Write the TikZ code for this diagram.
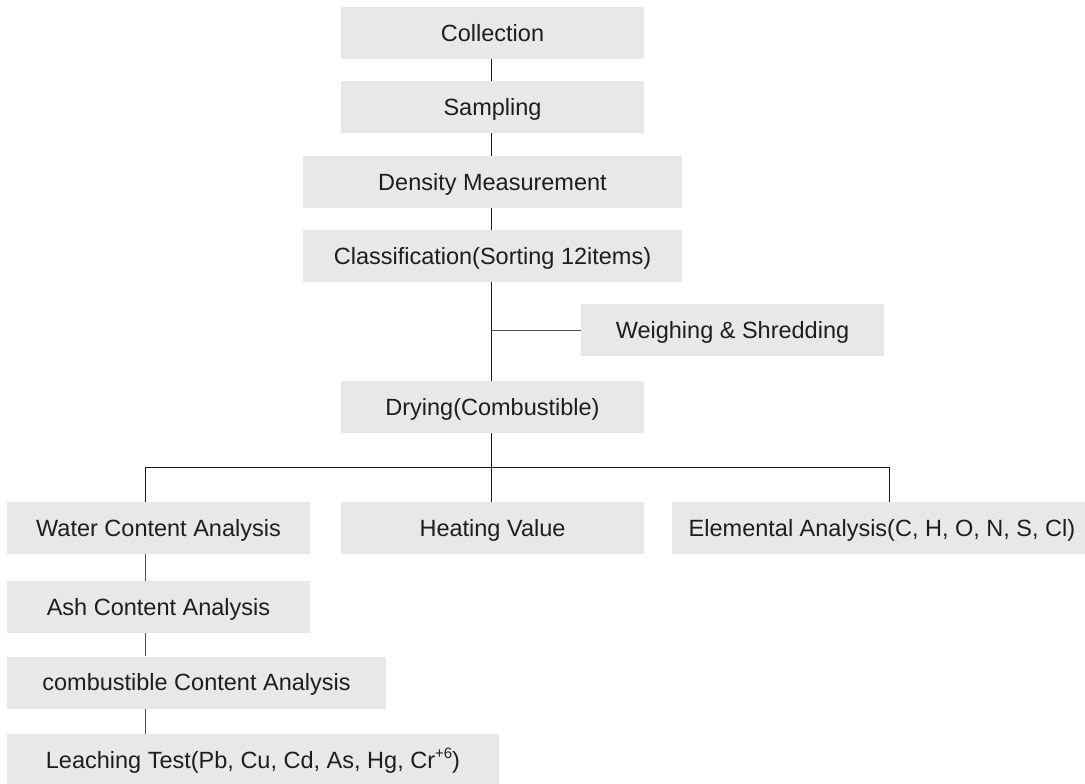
\documentclass[tikz,border=0pt]{standalone}
\usepackage{fontspec}
\setmainfont{Liberation Sans}
\definecolor{boxgray}{HTML}{E8E8E8}
\definecolor{txt}{HTML}{1E1E1E}
\definecolor{linedark}{HTML}{1A1A1A}
\definecolor{linegray}{HTML}{505050}
\begin{document}
\begin{tikzpicture}[x=1pt,y=-1pt,
  stepbox/.style={rectangle, fill=boxgray, draw=none, inner sep=0pt,
    minimum height=52pt, text=txt,
    font=\fontsize{23.5}{27}\selectfont, text height=16.8pt, text depth=0pt},
  conn/.style={draw=linedark, line width=1pt},
  conng/.style={draw=linegray, line width=1pt}]
\clip (0,0) rectangle (1085,784);
\fill[white] (0,0) rectangle (1085,784);
\node[stepbox, minimum width=303pt] (col) at (492.5,33) {Collection};
\node[stepbox, minimum width=303pt] (samp) at (492.5,107) {Sampling};
\node[stepbox, minimum width=379pt] (dens) at (492.5,182) {Density Measurement};
\node[stepbox, minimum width=379pt] (cls) at (492.5,256) {Classification(Sorting 12items)};
\node[stepbox, minimum width=303pt] (weigh) at (732.5,330) {Weighing \& Shredding};
\node[stepbox, minimum width=303pt] (dry) at (492.5,407) {Drying(Combustible)};
\node[stepbox, minimum width=303pt] (water) at (158.5,528) {Water Content Analysis};
\node[stepbox, minimum width=303pt] (heat) at (492.5,528) {Heating Value};
\node[stepbox, minimum width=420pt] (elem) at (882,528) {Elemental Analysis(C, H, O, N, S, Cl)};
\node[stepbox, minimum width=303pt] (ash) at (158.5,607) {Ash Content Analysis};
\node[stepbox, minimum width=379pt] (comb) at (196.5,682.5) {combustible Content Analysis};
\node[stepbox, minimum width=492pt] (leach) at (253,760) {Leaching Test(Pb, Cu, Cd, As, Hg, Cr\raisebox{0.42em}{\fontsize{15}{15}\selectfont +6})};
\coordinate (sp) at (491,0);
\coordinate (lx) at (145,0);
\coordinate (rx) at (889,0);
\coordinate (bus) at (491,467);
\draw[conn] (col.south -| sp) -- (samp.north -| sp);
\draw[conn] (samp.south -| sp) -- (dens.north -| sp);
\draw[conn] (dens.south -| sp) -- (cls.north -| sp);
\draw[conn] (cls.south -| sp) -- (dry.north -| sp);
\draw[conng] (weigh.west -| sp) -- (weigh.west);
\draw[conn] (dry.south -| sp) -- (heat.north -| sp);
\draw[conn] (water.north -| lx) -- (lx |- bus) -- (rx |- bus) -- (elem.north -| rx);
\draw[conng] (water.south -| lx) -- (ash.north -| lx);
\draw[conng] (ash.south -| lx) -- (comb.north -| lx);
\draw[conng] (comb.south -| lx) -- (leach.north -| lx);
\end{tikzpicture}
\end{document}
